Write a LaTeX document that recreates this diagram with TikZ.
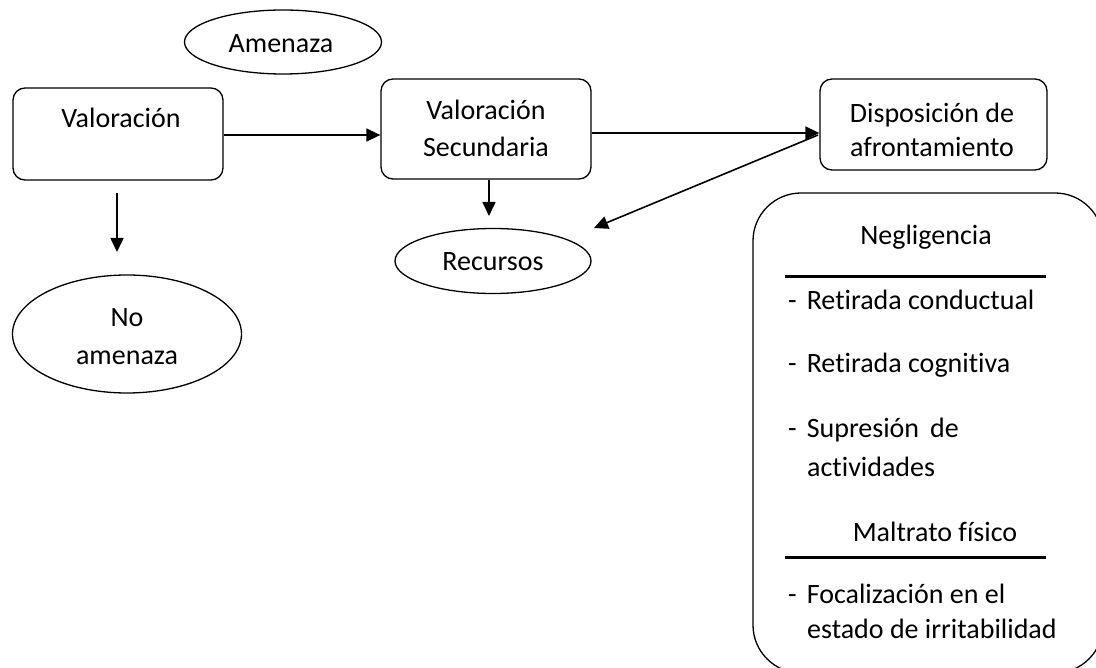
\documentclass[tikz,border=0pt]{standalone}
\usepackage{fontspec}
\setmainfont[Ligatures={NoCommon}]{Carlito}
\usetikzlibrary{shapes.geometric,arrows.meta}
\newcommand{\itemdash}{-\hspace{10pt}}
\begin{document}
\begin{tikzpicture}[x=1pt,y=-1pt,
  txt/.style={font=\fontsize{28}{36}\selectfont, inner sep=0, anchor=base},
  ltxt/.style={font=\fontsize{28}{36}\selectfont, inner sep=0, anchor=base west},
  box/.style={draw, rounded corners=12, line width=1.3, inner sep=0},
  ell/.style={draw, ellipse, line width=1.3, inner sep=0},
  arr/.style={-{Triangle[length=14,width=13]}, line width=1.6},
  rule/.style={line width=3}]
\path[use as bounding box] (0,0) rectangle (1096,668);
\clip (0,0) rectangle (1096,668);
% shapes
\node[ell, minimum width=197, minimum height=64] (amen) at (283,42) {};
\node[box, minimum width=210, minimum height=92] (val) at (118,134) {};
\node[box, minimum width=210, minimum height=100] (vs) at (486,129) {};
\node[box, minimum width=227, minimum height=91] (disp) at (933.5,124.5) {};
\node[ell, minimum width=196, minimum height=65] (rec) at (493,261) {};
\node[ell, minimum width=229, minimum height=118] (noam) at (127,334) {};
\node[draw, line width=1.3, rounded corners=48, minimum width=350, minimum height=480, inner sep=0] (big) at (928,433) {};
% texts
\node[txt] (tamen) at (281,53) {Amenaza};
\node[txt] (tval) at (121,128) {Valoración};
\node[txt] (tvs1) at (486,120) {Valoración};
\node[txt] (tvs2) at (486,157) {Secundaria};
\node[txt] (tdisp1) at (932,123) {Disposición de};
\node[txt] (tdisp2) at (932,157) {afrontamiento};
\node[txt] (trec) at (493,271) {Recursos};
\node[txt] (tno1) at (127,327) {No};
\node[txt] (tno2) at (127,365) {amenaza};
\node[txt] (tneg) at (926,245) {Negligencia};
\node[ltxt] (i1) at (788,310) {\itemdash Retirada conductual};
\node[ltxt] (i2) at (788,373) {\itemdash Retirada cognitiva};
\node[ltxt] (i3) at (788,438) {\itemdash Supresión\, de};
\node[ltxt] (i3b) at (807,476) {actividades};
\node[txt] (tmal) at (935,541) {Maltrato físico};
\node[ltxt] (i4) at (788,603) {\itemdash Focalización en el};
\node[ltxt] (i4b) at (807,638) {estado de irritabilidad};
% rules
\coordinate (r1a) at (785,277); \coordinate (r1b) at (1046,277);
\coordinate (r2a) at (785,557); \coordinate (r2b) at (1046,557);
\draw[rule] (r1a) -- (r1b);
\draw[rule] (r2a) -- (r2b);
% connectors
\draw[arr] ([yshift=-1]val.east) -- ([yshift=-1]val.east -| vs.west);
\draw[arr] ([yshift=-4]vs.east) -- ([yshift=-4]vs.east -| disp.west);
\coordinate (dstart) at (818,135);
\coordinate (rtip) at (594,228);
\draw[arr] (dstart) -- (rtip);
\coordinate (v1) at (117,193);
\coordinate (v2) at (117,252);
\draw[arr] (v1) -- (v2);
\coordinate (vs2) at (489,216);
\draw[arr] (vs.south -| vs2) -- (vs2);
\end{tikzpicture}
\end{document}
